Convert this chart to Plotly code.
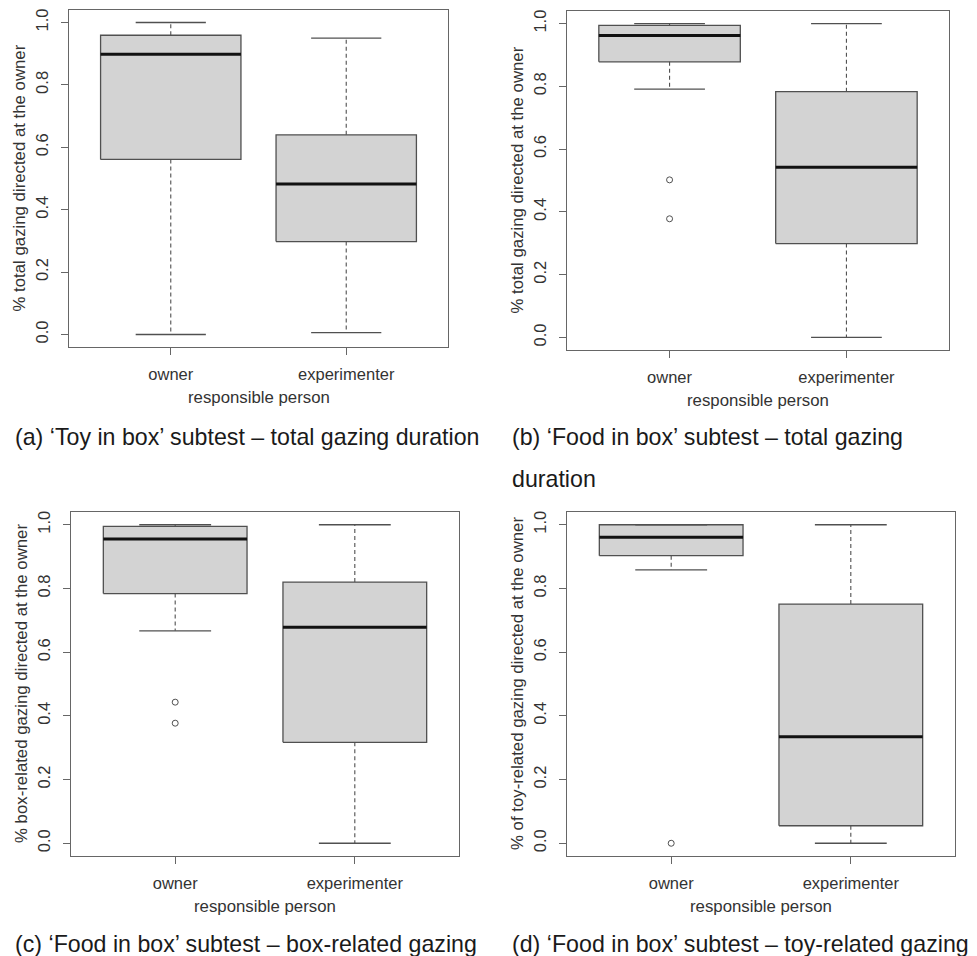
import plotly.graph_objects as go

# ---------------- data ----------------
groups = ["owner", "experimenter"]
positions = [1, 2]
y_tick_vals = [0.0, 0.2, 0.4, 0.6, 0.8, 1.0]
y_tick_text = ["0.0", "0.2", "0.4", "0.6", "0.8", "1.0"]
x_title = "responsible person"

# panel (a) 'Toy in box' - total gazing duration
a_lower = [0.000, 0.006]
a_q1 = [0.561, 0.298]
a_median = [0.898, 0.482]
a_q3 = [0.959, 0.640]
a_upper = [1.000, 0.950]
a_outliers = [[], []]
a_ytitle = "% total gazing directed at the owner"
a_caption = "(a) \u2018Toy in box\u2019 subtest \u2013 total gazing duration"

# panel (b) 'Food in box' - total gazing duration
b_lower = [0.791, 0.000]
b_q1 = [0.878, 0.299]
b_median = [0.962, 0.542]
b_q3 = [0.994, 0.783]
b_upper = [1.000, 1.000]
b_outliers = [[0.502, 0.378], []]
b_ytitle = "% total gazing directed at the owner"
b_caption = "(b) \u2018Food in box\u2019 subtest \u2013 total gazing"
b_caption2 = "duration"

# panel (c) 'Food in box' - box-related gazing
c_lower = [0.667, 0.000]
c_q1 = [0.784, 0.317]
c_median = [0.955, 0.678]
c_q3 = [0.995, 0.820]
c_upper = [1.000, 1.000]
c_outliers = [[0.443, 0.377], []]
c_ytitle = "% box-related gazing directed at the owner"
c_caption = "(c) \u2018Food in box\u2019 subtest \u2013 box-related gazing"

# panel (d) 'Food in box' - toy-related gazing
d_lower = [0.858, 0.000]
d_q1 = [0.903, 0.055]
d_median = [0.961, 0.334]
d_q3 = [1.000, 0.751]
d_upper = [1.000, 1.000]
d_outliers = [[0.000], []]
d_ytitle = "% of toy-related gazing directed at the owner"
d_caption = "(d) \u2018Food in box\u2019 subtest \u2013 toy-related gazing"

# ---------------- styling ----------------
W, H = 977, 956
FONT = "Liberation Sans, Arial, sans-serif"
AX_TEXT = "#333333"
BOX_FILL = "#d3d3d3"
BOX_LINE = "#505050"
FRAME = "#666666"
BOX_WIDTH = 0.8
CAP_WIDTH = 0.4

# pixel frames of each panel: (left, right, top, bottom)
frames = {
    "a": (69, 448, 10, 347),
    "b": (567, 949, 11, 350),
    "c": (71, 459, 512, 856),
    "d": (567, 955, 512, 856),
}

panels = {
    "a": (a_lower, a_q1, a_median, a_q3, a_upper, a_outliers, a_ytitle),
    "b": (b_lower, b_q1, b_median, b_q3, b_upper, b_outliers, b_ytitle),
    "c": (c_lower, c_q1, c_median, c_q3, c_upper, c_outliers, c_ytitle),
    "d": (d_lower, d_q1, d_median, d_q3, d_upper, d_outliers, d_ytitle),
}

fig = go.Figure()
annotations = []

for i, key in enumerate(["a", "b", "c", "d"]):
    lower, q1, med, q3, upper, outs, ytitle = panels[key]
    sfx = "" if i == 0 else str(i + 1)
    xa, ya = "x" + sfx, "y" + sfx
    for p, lo, b1, m, b3, up, ol in zip(positions, lower, q1, med, q3, upper, outs):
        hw = BOX_WIDTH / 2
        cw = CAP_WIDTH / 2
        # box body
        fig.add_trace(go.Scatter(
            x=[p - hw, p + hw, p + hw, p - hw, p - hw], y=[b1, b1, b3, b3, b1],
            mode="lines", fill="toself", fillcolor=BOX_FILL,
            line=dict(color=BOX_LINE, width=1.3), xaxis=xa, yaxis=ya,
            showlegend=False, hoverinfo="skip"))
        # dashed whiskers
        for y0, y1 in [(b3, up), (b1, lo)]:
            fig.add_trace(go.Scatter(
                x=[p, p], y=[y0, y1], mode="lines",
                line=dict(color=BOX_LINE, width=1.1, dash="4px,3px"),
                xaxis=xa, yaxis=ya, showlegend=False, hoverinfo="skip"))
        # staples
        for yv in [up, lo]:
            fig.add_trace(go.Scatter(
                x=[p - cw, p + cw], y=[yv, yv], mode="lines",
                line=dict(color=BOX_LINE, width=1.3),
                xaxis=xa, yaxis=ya, showlegend=False, hoverinfo="skip"))
        # median
        fig.add_trace(go.Scatter(
            x=[p - hw, p + hw], y=[m, m], mode="lines",
            line=dict(color="#111111", width=3),
            xaxis=xa, yaxis=ya, showlegend=False, hoverinfo="skip"))
        # outliers
        if ol:
            fig.add_trace(go.Scatter(
                x=[p] * len(ol), y=ol, mode="markers",
                marker=dict(symbol="circle-open", size=6, color=BOX_LINE,
                            line=dict(width=1)),
                xaxis=xa, yaxis=ya, showlegend=False, hoverinfo="skip"))

    l, r, t, b = frames[key]
    xdom = [l / W, r / W]
    ydom = [1 - b / H, 1 - t / H]
    common = dict(showgrid=False, zeroline=False, showline=True, mirror=True,
                  linecolor=FRAME, linewidth=1.3, ticks="outside", ticklen=7,
                  tickcolor=FRAME, tickwidth=1.2,
                  tickfont=dict(family=FONT, size=16.5, color=AX_TEXT))
    fig.layout["xaxis" + sfx] = dict(
        domain=xdom, range=[0.42, 2.58], tickvals=positions, ticktext=groups,
        anchor=ya, ticklabelstandoff=5, fixedrange=True, **common)
    fig.layout["yaxis" + sfx] = dict(
        domain=ydom, range=[-0.04, 1.04], tickvals=y_tick_vals,
        ticktext=y_tick_text, tickangle=-90, anchor=xa,
        ticklabelstandoff=6, fixedrange=True, **common)

    # axis titles
    annotations.append(dict(
        text=ytitle, xref=xa + " domain", yref=ya + " domain", x=0, y=0.5,
        xshift=-50, textangle=-90, showarrow=False, xanchor="center",
        yanchor="middle", font=dict(family=FONT, size=16.8, color=AX_TEXT)))
    annotations.append(dict(
        text=x_title, xref=xa + " domain", yref=ya + " domain", x=0.5, y=0,
        yshift=-50, showarrow=False, xanchor="center", yanchor="middle",
        font=dict(family=FONT, size=16.8, color=AX_TEXT)))

# captions
cap_font = dict(family=FONT, size=23.2, color="#1a1a1a")
for text, xp, yp in [(a_caption, 13, 437), (b_caption, 510, 437),
                     (b_caption2, 510, 479), (c_caption, 13, 944),
                     (d_caption, 510, 944)]:
    annotations.append(dict(
        text=text, xref="paper", yref="paper", x=xp / W, y=1 - yp / H,
        showarrow=False, xanchor="left", yanchor="middle", font=cap_font))

fig.update_layout(
    width=W, height=H, margin=dict(l=0, r=0, t=0, b=0),
    paper_bgcolor="white", plot_bgcolor="white", showlegend=False,
    annotations=annotations, font=dict(family=FONT))

fig.write_html("out.html")
